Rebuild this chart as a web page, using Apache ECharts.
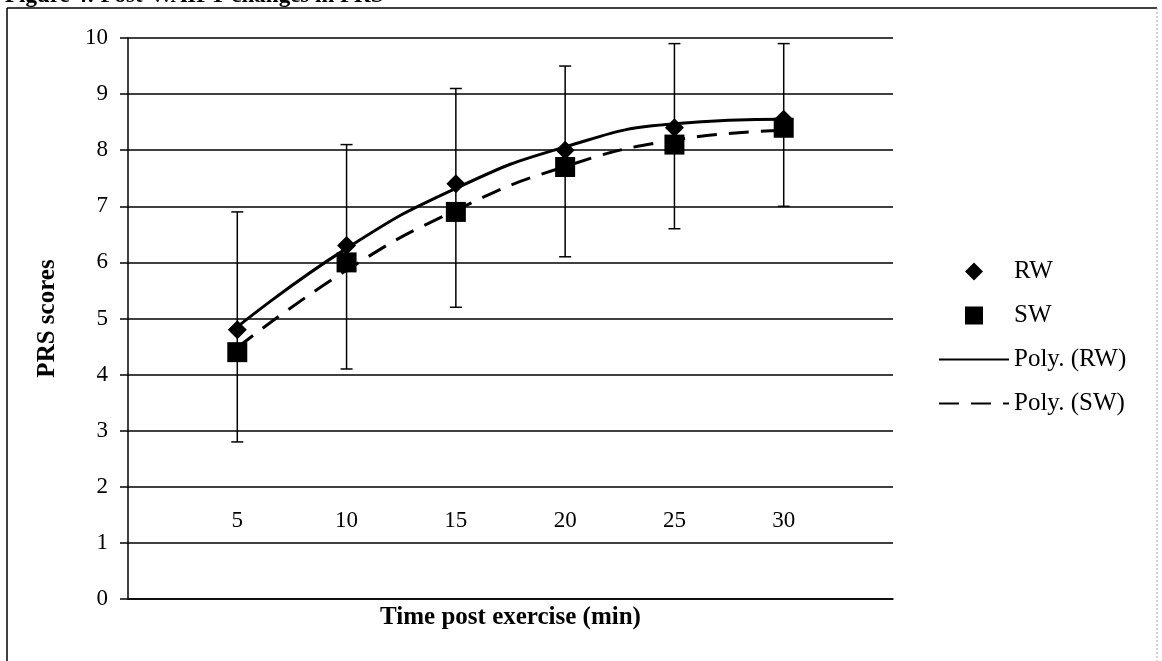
<!DOCTYPE html>
<html>
<head>
<meta charset="utf-8">
<script src="https://cdn.jsdelivr.net/npm/echarts@6/dist/echarts.min.js"></script>
<style>
html,body{margin:0;padding:0;background:#fff;}
#chart{width:1162px;height:661px;}
</style>
</head>
<body>
<div id="chart"></div>
<script>
// ---- data ----
const times = [5, 10, 15, 20, 25, 30];
const rwValues = [4.8, 6.3, 7.4, 8.0, 8.4, 8.55];
const swValues = [4.4, 6.0, 6.9, 7.7, 8.1, 8.4];
const errLow = [2.8, 4.1, 5.2, 6.1, 6.6, 7.0];
const errHigh = [6.9, 8.1, 9.1, 9.5, 9.9, 9.9];
const rwTrend = [4.85, 6.25, 7.32, 8.06, 8.47, 8.55];
const swTrend = [4.48, 5.86, 6.93, 7.71, 8.18, 8.35];
const yTicks = [0, 1, 2, 3, 4, 5, 6, 7, 8, 9, 10];

const serif = "'Liberation Serif', 'DejaVu Serif', serif";
const chart = echarts.init(document.getElementById('chart'), null, {renderer: 'canvas'});

function pairs(vals) { return times.map((t, i) => [t, vals[i]]); }

const diamondIcon = 'path://M0,-1L1,0L0,1L-1,0Z';
const squareIcon = 'path://M0,0L1,0L1,1L0,1Z';

const option = {
  backgroundColor: '#fff',
  animation: false,
  graphic: [
    { type: 'text', left: 5, top: -15, style: { text: 'Figure 4: Post-WAIPT changes in PRS', font: "bold 23px " + serif, fill: '#000' } },
    { type: 'line', shape: { x1: 7, y1: 8, x2: 1157, y2: 8 }, style: { stroke: '#000', lineWidth: 1.5 } },
    { type: 'line', shape: { x1: 7, y1: 8, x2: 7, y2: 661 }, style: { stroke: '#000', lineWidth: 1.5 } },
    { type: 'line', shape: { x1: 1157, y1: 8, x2: 1157, y2: 661 }, style: { stroke: '#aaa', lineWidth: 1, lineDash: [2, 2] } }
  ],
  grid: { left: 128, right: 269, top: 38, bottom: 62, containLabel: false },
  legend: {
    data: [
      { name: 'RW', icon: diamondIcon },
      { name: 'SW', icon: squareIcon },
      { name: 'Poly. (RW)', itemStyle: { opacity: 0 } },
      { name: 'Poly. (SW)', itemStyle: { opacity: 0 } }
    ],
    orient: 'vertical', left: 933, top: 254,
    itemWidth: 70, itemHeight: 18, itemGap: 19,
    symbolKeepAspect: true,
    textStyle: { fontFamily: serif, fontSize: 25, color: '#000' }
  },
  xAxis: {
    type: 'value', min: 0, max: 35, interval: 5,
    name: 'Time post exercise (min)', nameLocation: 'middle', nameGap: 5,
    nameTextStyle: { fontFamily: serif, fontSize: 25, fontWeight: 'bold', color: '#000' },
    axisLine: { show: true, lineStyle: { color: '#000', width: 1.5 } },
    axisTick: { show: false },
    splitLine: { show: false },
    axisLabel: {
      margin: -78, verticalAlign: 'middle',
      fontFamily: serif, fontSize: 23, color: '#000',
      formatter: v => (times.indexOf(v) >= 0 ? String(v) : '')
    }
  },
  yAxis: {
    type: 'value', min: 0, max: 10, interval: 1,
    name: 'PRS scores', nameLocation: 'middle', nameGap: 68, nameRotate: 90,
    nameTextStyle: { fontFamily: serif, fontSize: 25, fontWeight: 'bold', color: '#000' },
    axisLine: { show: true, lineStyle: { color: '#000', width: 1.5 } },
    axisTick: { show: true, inside: false, length: 8, lineStyle: { color: '#000', width: 1.5 } },
    splitLine: { show: true, lineStyle: { color: '#000', width: 1.5 } },
    axisLabel: {
      margin: 20, fontFamily: serif, fontSize: 23, color: '#000',
      formatter: v => (yTicks.indexOf(v) >= 0 ? String(v) : '')
    }
  },
  series: [
    {
      name: 'Error', type: 'custom',
      data: times.map((t, i) => [t, errLow[i], errHigh[i]]),
      renderItem: function (params, api) {
        const x = api.value(0);
        const lo = api.coord([x, api.value(1)]);
        const hi = api.coord([x, api.value(2)]);
        const w = 6;
        const st = { stroke: '#000', lineWidth: 1.5 };
        return {
          type: 'group',
          children: [
            { type: 'line', shape: { x1: lo[0], y1: lo[1], x2: hi[0], y2: hi[1] }, style: st },
            { type: 'line', shape: { x1: lo[0] - w, y1: lo[1], x2: lo[0] + w, y2: lo[1] }, style: st },
            { type: 'line', shape: { x1: hi[0] - w, y1: hi[1], x2: hi[0] + w, y2: hi[1] }, style: st }
          ]
        };
      },
      z: 1
    },
    {
      name: 'RW', type: 'scatter', data: pairs(rwValues),
      symbol: 'diamond', symbolSize: [19, 19],
      itemStyle: { color: '#000', opacity: 1 }, z: 3
    },
    {
      name: 'SW', type: 'scatter', data: pairs(swValues),
      symbol: 'rect', symbolSize: [20, 20],
      itemStyle: { color: '#000', opacity: 1 }, z: 3
    },
    {
      name: 'Poly. (RW)', type: 'line', data: pairs(rwTrend), smooth: 0.5,
      symbol: 'none', showSymbol: false,
      lineStyle: { color: '#000', width: 3, type: 'solid' },
      itemStyle: { color: '#000' }, z: 4
    },
    {
      name: 'Poly. (SW)', type: 'line', data: pairs(swTrend), smooth: 0.5,
      symbol: 'none', showSymbol: false,
      lineStyle: { color: '#000', width: 3, type: [20, 12] },
      itemStyle: { color: '#000' }, z: 4
    }
  ]
};
chart.setOption(option);
</script>
</body>
</html>
